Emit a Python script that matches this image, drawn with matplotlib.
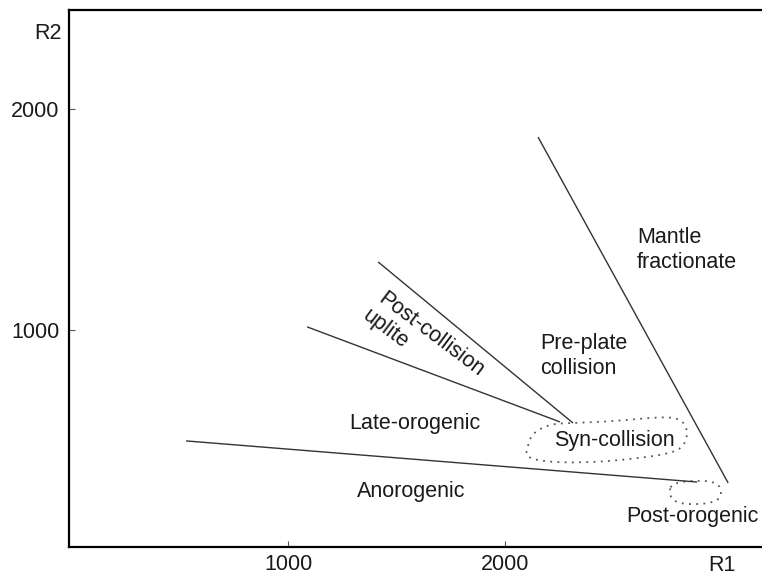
import matplotlib.pyplot as plt
from matplotlib.path import Path
from matplotlib.patches import PathPatch

plt.rcParams['font.family'] = ['Liberation Sans', 'DejaVu Sans']

# Boundary lines of the R1-R2 discrimination diagram (start, end)
mantle_line = [(2152, 1873), (3028, 308)]
post_collision_upper = [(1415, 1308), (2313, 579)]
post_collision_lower = [(1088, 1014), (2253, 584)]
anorogenic_line = [(530, 498), (2885, 312)]

# Outlined fields drawn as dotted closed curves
syn_collision_field = [(2101, 457), (2120, 530), (2207, 575), (2313, 579),
                       (2516, 588), (2700, 606), (2806, 602), (2843, 548),
                       (2829, 480), (2774, 443), (2590, 416), (2359, 398),
                       (2161, 405), (2095, 430)]
post_orogenic_field = [(2770, 308), (2899, 321), (2982, 308), (3000, 262),
                       (2977, 222), (2866, 208), (2774, 222), (2756, 267)]

x_ticks = [1000, 2000]
y_ticks = [1000, 2000]


def smooth_closed(points):
    # quadratic bezier through segment midpoints, vertices act as controls
    n = len(points)
    mids = [((points[i][0] + points[(i + 1) % n][0]) / 2,
             (points[i][1] + points[(i + 1) % n][1]) / 2) for i in range(n)]
    verts = [mids[-1]]
    codes = [Path.MOVETO]
    for i in range(n):
        verts += [points[i], mids[i]]
        codes += [Path.CURVE3, Path.CURVE3]
    return Path(verts, codes)


fig = plt.figure(figsize=(7.62, 5.75), dpi=100)
ax = fig.add_axes([0.0906, 0.0487, 0.9094, 0.934])
ax.set_xlim(-9, 3184)
ax.set_ylim(18, 2448)

for seg in [mantle_line, post_collision_upper, post_collision_lower, anorogenic_line]:
    xs, ys = zip(*seg)
    ax.plot(xs, ys, color='#333333', lw=1.0, solid_capstyle='butt')

for field in [syn_collision_field, post_orogenic_field]:
    ax.add_patch(PathPatch(smooth_closed(field), facecolor='none',
                           edgecolor='#555555', lw=1.3, linestyle=(0, (1, 3))))

ax.spines['right'].set_visible(False)
for s in ['left', 'top', 'bottom']:
    ax.spines[s].set_linewidth(1.6)
    ax.spines[s].set_color('black')

ax.set_xticks(x_ticks)
ax.set_yticks(y_ticks)
ax.tick_params(direction='in', length=4, width=0.8, color='#555555',
               labelsize=15.5, labelcolor='#1a1a1a')
ax.tick_params(axis='x', pad=5)
ax.tick_params(axis='y', pad=7)

fs = 15.5
tc = '#1a1a1a'
ax.text(-0.01, 0.957, 'R2', transform=ax.transAxes, ha='right', va='center',
        fontsize=fs, color=tc)
ax.text(3000, -66, 'R1', ha='center', va='center', fontsize=fs, color=tc,
        clip_on=False)

ax.text(2608, 1361, 'Mantle\nfractionate', ha='left', va='center',
        fontsize=fs, color=tc, linespacing=1.22)
ax.text(2161, 882, 'Pre-plate\ncollision', ha='left', va='center',
        fontsize=fs, color=tc, linespacing=1.22)
ax.text(1585, 575, 'Late-orogenic', ha='center', va='center', fontsize=fs, color=tc)
ax.text(1567, 271, 'Anorogenic', ha='center', va='center', fontsize=fs, color=tc)
ax.text(2502, 502, 'Syn-collision', ha='center', va='center', fontsize=fs, color=tc)
ax.text(2862, 154, 'Post-orogenic', ha='center', va='center', fontsize=fs, color=tc)
ax.text(1659, 977, 'Post-collision', ha='center', va='center', fontsize=fs,
        color=tc, rotation=-37, rotation_mode='anchor')
ax.text(1447, 1004, 'uplite', ha='center', va='center', fontsize=fs,
        color=tc, rotation=-37, rotation_mode='anchor')

fig.savefig('out.png', dpi=100)
